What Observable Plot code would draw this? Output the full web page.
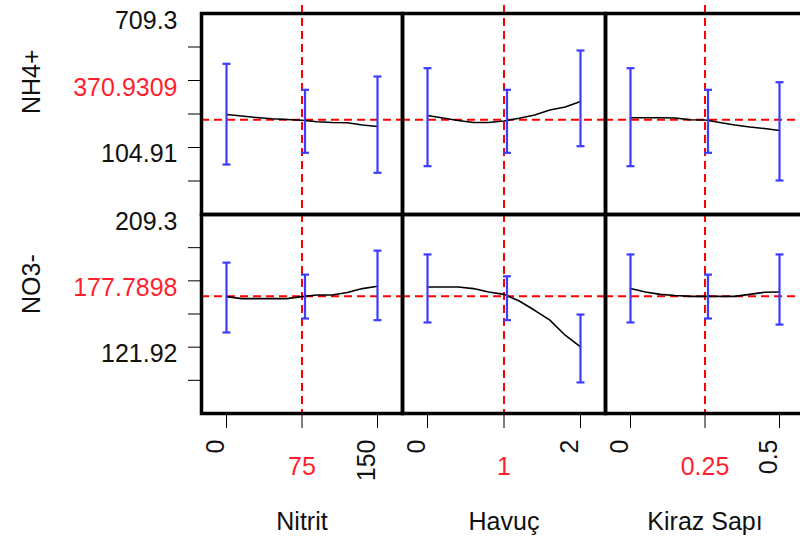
<!DOCTYPE html>
<html><head><meta charset="utf-8">
<script src="https://cdn.jsdelivr.net/npm/d3@7"></script>
<script src="https://cdn.jsdelivr.net/npm/@observablehq/plot@0.6"></script>
<style>
html,body{margin:0;padding:0;background:#fff;}
#chart{position:relative;width:800px;height:548px;overflow:hidden;background:#fff;}
#chart svg{position:absolute;overflow:visible;}
g[aria-label^="x-axis"] line, g[aria-label^="y-axis"] line{stroke-width:2px;}
</style></head><body><div id="chart"></div>
<script>
// ---- data ----
const factors = ["Nitrit", "Havuç", "Kiraz Sapı"];
const responses = ["NH4+", "NO3-"];

const nitritX = [0, 15, 30, 45, 60, 75, 90, 105, 120, 135, 150];
const havucX  = [0, 0.2, 0.4, 0.6, 0.8, 1.0, 1.2, 1.4, 1.6, 1.8, 2.0];
const kirazX  = [0, 0.05, 0.1, 0.15, 0.2, 0.25, 0.3, 0.35, 0.4, 0.45, 0.5];

const currentX = [75, 1, 0.25];
const currentXLabels = ["75", "1", "0.25"];
const rangeX = [[0, 150], [0, 2], [0, 0.5]];
const endXLabels = [["0", "150"], ["0", "2"], ["0", "0.5"]];

const nh4Nitrit = [253.7, 247.0, 240.2, 234.4, 231.2, 228.0, 220.8, 217.7, 216.3, 206.4, 199.6];
const nh4Havuc  = [249.2, 238.0, 226.7, 217.7, 217.7, 224.4, 237.1, 251.5, 274.0, 287.6, 312.4];
const nh4Kiraz  = [238.9, 238.9, 238.9, 238.0, 229.8, 228.9, 217.7, 206.4, 197.4, 190.6, 181.6];
const no3Nitrit = [155.2, 153.9, 153.9, 153.9, 153.9, 155.2, 156.3, 156.3, 157.9, 160.5, 162.0];
const no3Havuc  = [161.5, 161.5, 161.5, 160.5, 158.3, 156.7, 152.3, 146.2, 139.7, 129.8, 122.1];
const no3Kiraz  = [160.5, 158.3, 156.7, 155.9, 155.4, 155.4, 155.4, 155.4, 156.7, 158.1, 158.3];

const nh4Pred = 229.8;
const no3Pred = 155.4;

// confidence bars [low, high] at min, current, max of each factor
const nh4BarsNitrit = [[28.2, 482.4], [81.0, 365.2], [-9.2, 425.1]];
const nh4BarsHavuc  = [[20.6, 462.6], [81.0, 365.2], [110.8, 542.4]];
const nh4BarsKiraz  = [[20.6, 462.6], [81.0, 365.2], [-43.9, 399.4]];
const no3BarsNitrit = [[131.6, 177.6], [140.8, 169.7], [139.7, 185.5]];
const no3BarsHavuc  = [[138.2, 183.0], [139.7, 168.6], [98.7, 143.4]];
const no3BarsKiraz  = [[138.2, 183.0], [140.8, 169.7], [136.8, 183.0]];

const nh4AxisTicks  = [709.3, 558.2, 407.1, 256.0, 104.91, -46.2, -197.3];
const nh4AxisLabels = ["709.3", "", "370.9309", "", "104.91", "", ""];
const no3AxisTicks  = [209.3, 187.455, 165.61, 143.765, 121.92, 100.075, 78.23];
const no3AxisLabels = ["209.3", "", "177.7898", "", "121.92", "", ""];
const redLabelIndex = 2;

// ---- build ----
const xs = [nitritX, havucX, kirazX];
const curves = [[nh4Nitrit, nh4Havuc, nh4Kiraz], [no3Nitrit, no3Havuc, no3Kiraz]];
const bars = [[nh4BarsNitrit, nh4BarsHavuc, nh4BarsKiraz], [no3BarsNitrit, no3BarsHavuc, no3BarsKiraz]];
const preds = [nh4Pred, no3Pred];
const yTicks = [nh4AxisTicks, no3AxisTicks];
const yLabels = [nh4AxisLabels, no3AxisLabels];
const yDomains = yTicks.map(t => [t[t.length - 1], t[0]]);

const BLUE = "#3c3cff", RED = "#ff0000", RED_TXT = "#ff1f2f", INK = "#111";
const FONT = "'Liberation Sans', Arial, sans-serif";
const FS = 25;
const capSymbol = {draw(ctx, size) { const w = Math.sqrt(size / Math.PI); ctx.moveTo(-w, 0); ctx.lineTo(w, 0); }};

const W = 800, H = 548;
const colL = [201, 402, 605], colR = [402, 605, 804];
const rowT = [13, 214], rowB = [214, 413];
const chart = document.getElementById("chart");

for (let r = 0; r < 2; r++) {
  for (let c = 0; c < 3; c++) {
    const left = c === 0 ? 0 : colL[c];
    const top = r === 0 ? 0 : rowT[r];
    const bottom = r === 1 ? H : rowB[r];
    const width = colR[c] - left, height = bottom - top;
    const xDom = rangeX[c];
    const barX = [xDom[0], currentX[c], xDom[1]];
    const barData = bars[r][c].map((b, i) => ({x: barX[i], lo: b[0], hi: b[1], mid: i === 1}));
    const sideBars = barData.filter(d => !d.mid), midBars = barData.filter(d => d.mid);
    const curveData = xs[c].map((x, i) => ({x, y: curves[r][c][i]}));

    const marks = [
      Plot.ruleY([preds[r]], {stroke: RED, strokeWidth: 2, strokeDasharray: "8,5"}),
      Plot.ruleX([currentX[c]], {stroke: RED, strokeWidth: 2, strokeDasharray: "8,5", insetTop: r === 0 ? -8 : 0}),
      Plot.line(curveData, {x: "x", y: "y", stroke: "#000", strokeWidth: 1.6}),
    ];
    for (const [data, dx] of [[sideBars, 0], [midBars, 3]]) {
      marks.push(
        Plot.ruleX(data, {x: "x", y1: "lo", y2: "hi", stroke: BLUE, strokeWidth: 2.2, dx}),
        Plot.dot(data, {x: "x", y: "lo", symbol: capSymbol, r: 4, stroke: BLUE, fill: "none", strokeWidth: 2.2, dx}),
        Plot.dot(data, {x: "x", y: "hi", symbol: capSymbol, r: 4, stroke: BLUE, fill: "none", strokeWidth: 2.2, dx})
      );
    }
    marks.push(Plot.frame({stroke: "#000", strokeWidth: 3.5}));

    if (c === 0) {
      const lab = yTicks[r].map((v, i) => ({v, t: yLabels[r][i], red: i === redLabelIndex})).filter(d => d.t);
      marks.push(
        Plot.text(lab.filter(d => !d.red), {y: "v", text: "t", frameAnchor: "left", textAnchor: "end", dx: -24, dy: 7, fontSize: FS, fill: INK}),
        Plot.text(lab.filter(d => d.red), {y: "v", text: "t", frameAnchor: "left", textAnchor: "end", dx: -24, dy: 7, fontSize: FS, fill: RED_TXT}),
        Plot.text([responses[r]], {text: d => d, frameAnchor: "left", dx: -162, rotate: -90, lineAnchor: "bottom", fontSize: FS, fill: INK})
      );
    }
    if (r === 1) {
      const ends = [{x: xDom[0], t: endXLabels[c][0]}, {x: xDom[1], t: endXLabels[c][1]}];
      marks.push(
        Plot.text(ends, {x: "x", text: "t", frameAnchor: "bottom", rotate: -90, textAnchor: "end", lineAnchor: "bottom", dx: -3, dy: 26, fontSize: FS, fill: INK}),
        Plot.text([{x: currentX[c], t: currentXLabels[c]}], {x: "x", text: "t", frameAnchor: "bottom", lineAnchor: "bottom", dy: 61, fontSize: FS, fill: RED_TXT}),
        Plot.text([factors[c]], {text: d => d, frameAnchor: "bottom", lineAnchor: "bottom", dy: 116, fontSize: FS, fill: INK})
      );
    }

    const svg = Plot.plot({
      width, height,
      marginLeft: c === 0 ? colL[0] : 0,
      marginRight: 0,
      marginTop: r === 0 ? rowT[0] : 0,
      marginBottom: r === 1 ? H - rowB[1] : 0,
      style: {background: "transparent", overflow: "visible", fontFamily: FONT},
      x: {domain: xDom, insetLeft: 25, insetRight: 25, axis: r === 1 ? "bottom" : null,
          ticks: barX, tickSize: 15, tickFormat: () => "", label: null},
      y: {domain: yDomains[r], axis: c === 0 ? "left" : null,
          ticks: yTicks[r].slice(1, 6), tickSize: 13, tickFormat: () => "", label: null},
      marks
    });
    svg.style.left = left + "px";
    svg.style.top = top + "px";
    chart.appendChild(svg);
  }
}
</script></body></html>
